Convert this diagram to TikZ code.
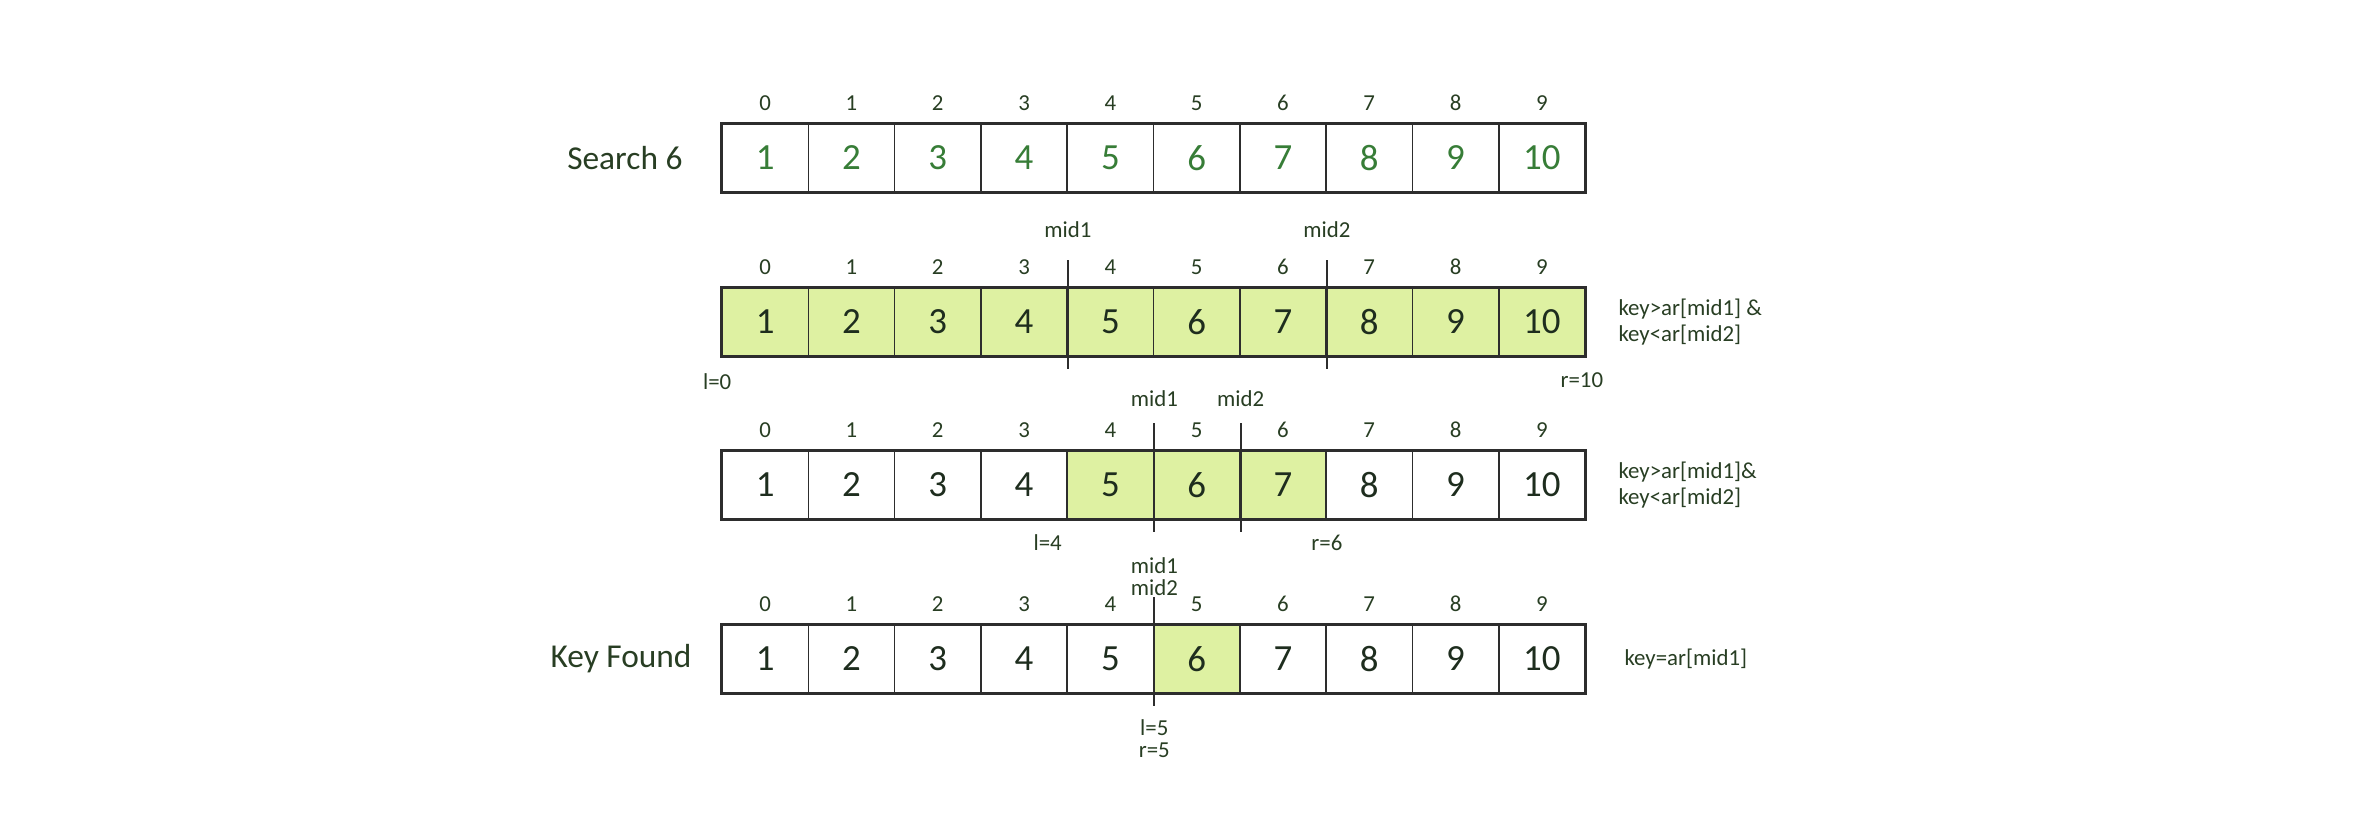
\documentclass[tikz,border=0pt]{standalone}
\usepackage{fontspec}
\setmainfont{Carlito}
\usepackage{tikz}
\usetikzlibrary{positioning}
\definecolor{arGreen}{RGB}{55,125,55}
\definecolor{arText}{RGB}{30,45,30}
\definecolor{arTag}{RGB}{40,62,35}
\definecolor{arFill}{RGB}{222,241,162}
\definecolor{arLine}{RGB}{45,45,45}
\tikzset{
    cell/.style={
        rectangle,
        draw=arLine,
        line width=0.45pt,
        minimum width=0.863cm,
        minimum height=0.68cm,
        inner sep=0pt,
        font=\fontsize{10.5}{12}\selectfont,
        text=arText
    },
    hit/.style={
        fill=arFill
    },
    bare/.style={},
    rowframe/.style={
        draw=arLine,
        line width=0.9pt
    },
    idx/.style={
        font=\fontsize{6.5}{8}\selectfont,
        text=arTag,
        inner sep=0pt
    },
    tag/.style={
        font=\fontsize{6.5}{7.6}\selectfont,
        text=arTag,
        inner sep=0pt,
        align=left
    },
    midline/.style={
        draw=arLine,
        line width=0.6pt
    },
    rowname/.style={
        font=\fontsize{9.5}{11}\selectfont,
        text=arTag,
        inner sep=0pt
    }
}

\begin{document}
\begin{tikzpicture}
    \useasboundingbox (0,0) rectangle (23.74,-8.2);

    % Row 1: the array
    \foreach \i in {0,...,9}{
        \pgfmathtruncatemacro\v{\i+1}
        \node[cell, text=arGreen] (a\i) at ({7.6515+0.863*\i},-1.58) {\v};
        \node[idx, yshift=0.2cm] (ia\i) at (a\i.north) {\i};
    }
    \draw[rowframe] (a0.north west) rectangle (a9.south east);
    \node[rowname, left=0.38cm of a0] (search) {Search 6};

    % Row 2: l=0, r=10
    \foreach \i in {0,...,9}{
        \pgfmathtruncatemacro\v{\i+1}
        \node[cell, hit] (b\i) at ({7.6515+0.863*\i},-3.22) {\v};
        \node[idx, yshift=0.2cm] (ib\i) at (b\i.north) {\i};
    }
    \draw[rowframe] (b0.north west) rectangle (b9.south east);
    \draw[midline] ([yshift=0.27cm]b3.north east) -- ([yshift=-0.12cm]b3.south east);
    \draw[midline] ([yshift=0.27cm]b6.north east) -- ([yshift=-0.12cm]b6.south east);
    \node[tag, yshift=0.58cm] (bm1) at (b3.north east) {mid1};
    \node[tag, yshift=0.58cm] (bm2) at (b6.north east) {mid2};
    \node[tag, yshift=-0.25cm, xshift=-0.04cm] (bl) at (b0.south west) {l=0};
    \node[tag, yshift=-0.23cm, xshift=-0.04cm] (br) at (b9.south east) {r=10};
    \node[tag, anchor=west, xshift=0.32cm] (bk) at (b9.east) {key>ar[mid1] \&\\key<ar[mid2]};

    % Row 3: l=4, r=6
    \foreach \i in {0,...,9}{
        \pgfmathtruncatemacro\v{\i+1}
        \ifnum\i>3 \ifnum\i<7 \def\s{hit}\else\def\s{bare}\fi \else\def\s{bare}\fi
        \node[cell, \s] (c\i) at ({7.6515+0.863*\i},-4.85) {\v};
        \node[idx, yshift=0.2cm] (ic\i) at (c\i.north) {\i};
    }
    \draw[rowframe] (c0.north west) rectangle (c9.south east);
    \draw[midline] ([yshift=0.27cm]c4.north east) -- ([yshift=-0.12cm]c4.south east);
    \draw[midline] ([yshift=0.27cm]c5.north east) -- ([yshift=-0.12cm]c5.south east);
    \node[tag, yshift=0.52cm] (cm1) at (c4.north east) {mid1};
    \node[tag, yshift=0.52cm] (cm2) at (c5.north east) {mid2};
    \node[tag, anchor=east, yshift=-0.23cm, xshift=-0.04cm] (cl) at (c4.south west) {l=4};
    \node[tag, yshift=-0.23cm] (cr) at (c6.south east) {r=6};
    \node[tag, anchor=west, xshift=0.32cm] (ck) at (c9.east) {key>ar[mid1]\&\\key<ar[mid2]};

    % Row 4: key found
    \foreach \i in {0,...,9}{
        \pgfmathtruncatemacro\v{\i+1}
        \ifnum\i=5 \def\s{hit}\else\def\s{bare}\fi
        \node[cell, \s] (d\i) at ({7.6515+0.863*\i},-6.59) {\v};
        \node[idx, yshift=0.2cm] (id\i) at (d\i.north) {\i};
    }
    \draw[rowframe] (d0.north west) rectangle (d9.south east);
    \draw[midline] ([yshift=0.27cm]d4.north east) -- ([yshift=-0.12cm]d4.south east);
    \node[tag, yshift=0.59cm] (dm1) at (d4.north east) {mid1};
    \node[tag, yshift=0.37cm] (dm2) at (d4.north east) {mid2};
    \node[tag, yshift=-0.34cm] (dl) at (d4.south east) {l=5};
    \node[tag, yshift=-0.56cm] (dr) at (d4.south east) {r=5};
    \node[rowname, left=0.29cm of d0] (found) {Key Found};
    \node[tag, anchor=west, xshift=0.38cm] (dk) at (d9.east) {key=ar[mid1]};
\end{tikzpicture}
\end{document}
